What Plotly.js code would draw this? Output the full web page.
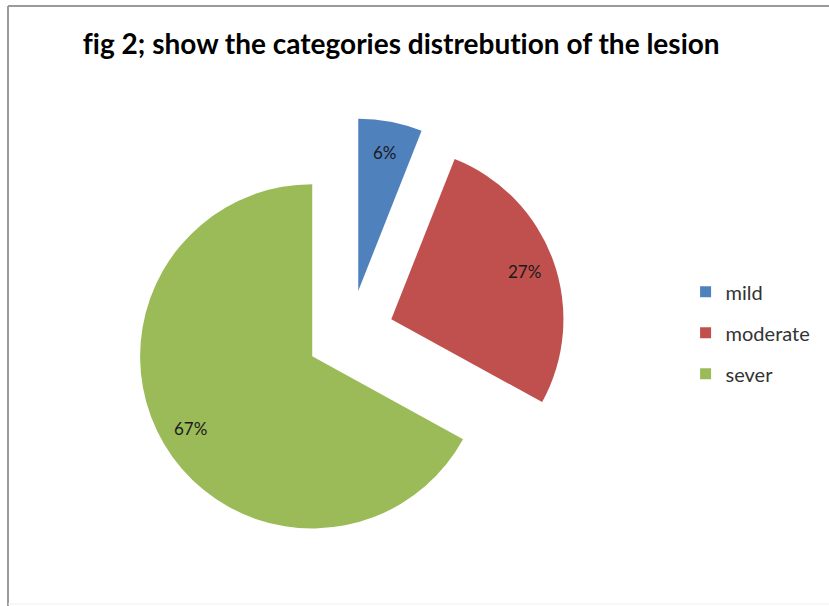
<!DOCTYPE html>
<html>
<head>
<meta charset="utf-8">
<script src="https://cdn.plot.ly/plotly-3.0.1.min.js"></script>
<style>
html,body{margin:0;padding:0;background:#fff;}
#chart{width:829px;height:606px;}
#chart text{font-variant-ligatures:none;font-feature-settings:"liga" 0;}
</style>
</head>
<body>
<div id="chart"></div>
<script>
const categories = ["mild", "moderate", "sever"];
const percents = [6, 27, 67];
const sliceColors = ["#4F81BD", "#C0504D", "#9BBB59"];
const titleText = "fig 2; show the categories distrebution of the lesion";

const W = 829, H = 606;
const PULL = 0.255;
const LABEL_FRAC = 0.82;
const domX = [0.1616, 0.6828], domY = [0.0924, 0.8053];

const pieTrace = {
  type: "pie",
  labels: categories,
  values: percents,
  sort: false,
  direction: "clockwise",
  rotation: 0,
  pull: categories.map(() => PULL),
  marker: {colors: sliceColors, line: {width: 0}},
  textinfo: "none",
  showlegend: false,
  hoverinfo: "label+percent",
  domain: {x: domX, y: domY}
};

// data labels placed along each slice's bisector, derived from the values
const total = percents.reduce((a, b) => a + b, 0);
const cx = (domX[0] + domX[1]) / 2 * W;
const cy = (1 - (domY[0] + domY[1]) / 2) * H;
const half = Math.min((domX[1] - domX[0]) * W, (domY[1] - domY[0]) * H) / 2;
const rad = half / (1 + PULL);
let cum = 0;
const labelAnnotations = percents.map((v) => {
  const mid = (cum + v / 2) / total * 2 * Math.PI;
  cum += v;
  const d = (PULL + LABEL_FRAC) * rad;
  const px = cx + d * Math.sin(mid);
  const py = cy - d * Math.cos(mid);
  return {
    xref: "paper", yref: "paper",
    x: px / W, y: 1 - py / H,
    xanchor: "center", yanchor: "middle",
    text: v + "%",
    showarrow: false,
    font: {family: "Lato, 'Open Sans', sans-serif", size: 17, color: "#1a1a1a"}
  };
});

const legendTraces = categories.map((c, i) => ({
  type: "scatter",
  mode: "markers",
  x: [null], y: [null],
  name: c,
  legendgroup: c,
  marker: {symbol: "square", size: 11, color: sliceColors[i]},
  showlegend: true,
  hoverinfo: "skip"
}));

const layout = {
  width: W,
  height: H,
  margin: {l: 0, r: 0, t: 0, b: 0},
  paper_bgcolor: "#ffffff",
  plot_bgcolor: "#ffffff",
  title: {
    text: "<b>" + titleText + "</b>",
    x: 0.484, xanchor: "center",
    y: 0.927, yanchor: "middle",
    font: {family: "Lato, 'Open Sans', sans-serif", size: 28, color: "#000000"}
  },
  xaxis: {visible: false},
  yaxis: {visible: false},
  showlegend: true,
  legend: {
    x: 0.827, xanchor: "left",
    y: 0.451, yanchor: "middle",
    traceorder: "grouped",
    tracegroupgap: 12,
    font: {family: "Lato, 'Open Sans', sans-serif", size: 20, color: "#333333"},
    itemwidth: 30,
    bgcolor: "rgba(0,0,0,0)"
  },
  annotations: labelAnnotations,
  shapes: [
    {type: "line", xref: "paper", yref: "paper", x0: 8/W, x1: 1, y0: 1 - 6/H, y1: 1 - 6/H, line: {color: "#9a9a9a", width: 2}},
    {type: "line", xref: "paper", yref: "paper", x0: 8/W, x1: 8/W, y0: 1 - 6/H, y1: 0, line: {color: "#9a9a9a", width: 2}},
    {type: "line", xref: "paper", yref: "paper", x0: 8/W, x1: 1, y0: 2/H, y1: 2/H, line: {color: "#eeeeee", width: 1}}
  ]
};

Plotly.newPlot("chart", [pieTrace].concat(legendTraces), layout, {staticPlot: true, displayModeBar: false});
</script>
</body>
</html>
